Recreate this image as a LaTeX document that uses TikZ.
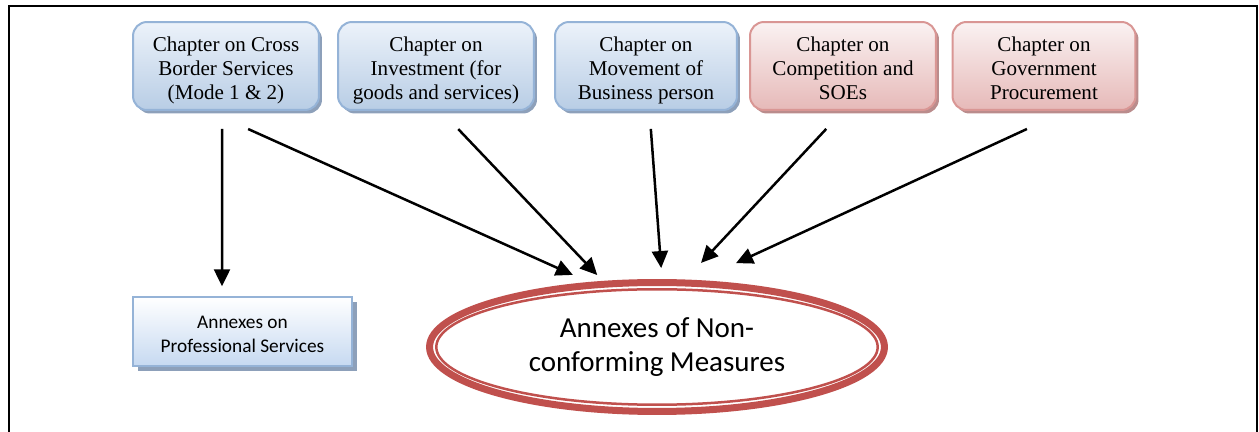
\documentclass[tikz,border=0pt]{standalone}
\usepackage{fontspec}
\setmainfont{Liberation Serif}
\newfontfamily\calibri{Carlito}
\usetikzlibrary{arrows.meta,shapes.geometric,shadows}
\definecolor{bluebd}{RGB}{149,179,215}
\definecolor{bluetop}{RGB}{236,242,250}
\definecolor{bluebot}{RGB}{184,205,229}
\definecolor{blueshd}{RGB}{141,160,186}
\definecolor{redbd}{RGB}{217,150,148}
\definecolor{redtop}{RGB}{250,242,242}
\definecolor{redbot}{RGB}{230,185,184}
\definecolor{redshd}{RGB}{186,140,140}
\definecolor{ncred}{RGB}{192,80,77}
\definecolor{profbot}{RGB}{198,217,241}
\newcommand{\topgap}{\rule{0pt}{15pt}}

\begin{document}
\begin{tikzpicture}[x=0.02cm,y=-0.02cm]
    \tikzstyle{chap}=[rectangle, rounded corners=0.28cm, line width=0.04cm, minimum height=1.76cm,
        inner sep=0pt, align=center, font=\fontsize{12}{13.7}\selectfont]
    \tikzstyle{chap blue}=[chap, draw=bluebd, top color=bluetop, bottom color=bluebot,
        drop shadow={shadow xshift=0.06cm, shadow yshift=-0.07cm, fill=blueshd, opacity=1}]
    \tikzstyle{chap red}=[chap, draw=redbd, top color=redtop, bottom color=redbot,
        drop shadow={shadow xshift=0.06cm, shadow yshift=-0.07cm, fill=redshd, opacity=1}]
    \tikzstyle{prof}=[rectangle, draw=bluebd, line width=0.03cm, top color=white, bottom color=profbot,
        minimum width=4.38cm, minimum height=1.38cm, inner sep=0pt, align=center,
        font=\calibri\fontsize{11}{13.7}\selectfont,
        drop shadow={shadow xshift=0.1cm, shadow yshift=-0.1cm, fill=blueshd, opacity=1}]
    \tikzstyle{arr}=[line width=0.05cm, -{Triangle[length=0.34cm,width=0.32cm]}]
    \useasboundingbox (0,0) rectangle (1259,432);
    \draw [black, line width=0.04cm] (9,432) -- (9,6) -- (1257,6) -- (1257,432);
    \node [chap blue, minimum width=3.72cm] (b1) at (226,66) {\topgap Chapter on Cross\\Border Services\\(Mode 1 \& 2)\strut};
    \node [chap blue, minimum width=3.92cm] (b2) at (436,66) {\topgap Chapter on\\Investment (for\\goods and services)\strut};
    \node [chap blue, minimum width=3.64cm] (b3) at (646,66) {\topgap Chapter on\\Movement of\\Business person\strut};
    \node [chap red, minimum width=3.72cm] (b4) at (843,66) {\topgap Chapter on\\Competition and\\SOEs\strut};
    \node [chap red, minimum width=3.66cm] (b5) at (1044,66) {\topgap Chapter on\\Government\\Procurement\strut};
    \node [prof] (prof) at (242.5,331.5) {\rule{0pt}{10pt}Annexes on\\Professional Services};
    \node [ellipse, draw=ncred, line width=0.14cm, minimum width=9.1cm, minimum height=2.58cm,
        inner sep=0pt, align=center, font=\calibri\fontsize{16.5}{19.5}\selectfont]
        (nc) at (657,347) {Annexes of Non-\\conforming Measures};
    \draw [ncred, line width=0.05cm] (nc.center) ellipse (4.415cm and 1.155cm);
    \draw [arr, shorten <=0.36cm, shorten >=0.2cm] ([xshift=-0.08cm]b1.south) -- ([xshift=-0.41cm]prof.north);
    \draw [arr, shorten <=0.88cm, shorten >=0.2cm] ([xshift=-0.36cm]b1.south) -- ([xshift=-1.5cm]nc.north);
    \draw [arr, shorten <=0.5cm, shorten >=0.11cm] ([xshift=0.1cm]b2.south) -- ([xshift=-1.12cm]nc.north);
    \draw [arr, shorten <=0.36cm, shorten >=0.22cm] ([xshift=0.07cm]b3.south) -- ([xshift=0.1cm]nc.north);
    \draw [arr, shorten <=0.49cm, shorten >=0.44cm] (b4.south) -- ([xshift=0.58cm]nc.north);
    \draw [arr, shorten <=0.86cm, shorten >=0.76cm] ([xshift=0.44cm]b5.south) -- ([xshift=0.89cm]nc.north);
\end{tikzpicture}
\end{document}
